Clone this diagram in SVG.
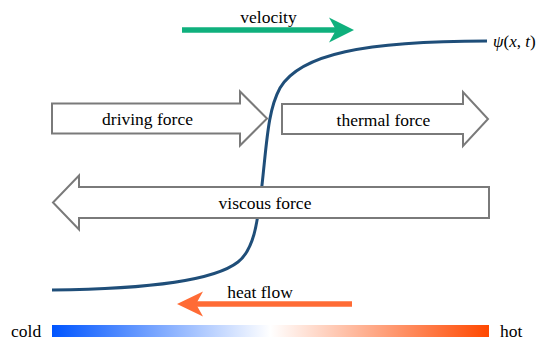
<svg xmlns="http://www.w3.org/2000/svg" width="545" height="353" viewBox="0 0 545 353">
  <style>
    text { font-family: 'Liberation Serif', serif; font-size: 17.5px; fill: #000; }
    .block { fill: #ffffff; stroke: #7a7a7a; stroke-width: 2; stroke-linejoin: miter; }
    .curve { fill: none; stroke: #1f4e79; stroke-width: 3; stroke-linecap: butt; }
  </style>
  <defs>
    <linearGradient id="temp" x1="52" y1="0" x2="489" y2="0" gradientUnits="userSpaceOnUse">
      <stop offset="0" stop-color="#0055ff"/>
      <stop offset="0.5" stop-color="#ffffff"/>
      <stop offset="1" stop-color="#ff4800"/>
    </linearGradient>
  </defs>

  <g id="connectors">
    <path id="psi-curve" class="curve" d="M52,290 C150,289 215,280 238,262 C256,248 258,215 262,185 C267,140 268,110 280,88 C300,54 365,41 487,41"/>
    <g id="velocity-arrow">
      <line x1="182" y1="30" x2="336" y2="30" stroke="#0fb07d" stroke-width="5.5"/>
      <path d="M354,30 L329,17.5 L336,30 L329,42.5 Z" fill="#0fb07d"/>
    </g>
    <g id="heatflow-arrow">
      <line x1="352" y1="304" x2="196" y2="304" stroke="#ff6b35" stroke-width="5.5"/>
      <path d="M177,304 L203,291.5 L196,304 L203,316.5 Z" fill="#ff6b35"/>
    </g>
  </g>

  <g id="velocity-label">
    <text x="268.5" y="22.5" text-anchor="middle">velocity</text>
  </g>

  <g id="psi-label">
    <text x="493" y="46.5" style="font-size:17px"><tspan font-style="italic">ψ</tspan>(<tspan font-style="italic">x</tspan>, <tspan font-style="italic">t</tspan>)</text>
  </g>

  <g id="driving-force">
    <path class="block" d="M52,103.5 L240,103.5 L240,91.5 L267,118.5 L240,145.5 L240,133.5 L52,133.5 Z"/>
    <text x="147.5" y="124.5" text-anchor="middle">driving force</text>
  </g>

  <g id="thermal-force">
    <path class="block" d="M282,104 L463,104 L463,92 L488,119 L463,146 L463,134 L282,134 Z"/>
    <text x="383.5" y="126" text-anchor="middle">thermal force</text>
  </g>

  <g id="viscous-force">
    <path class="block" d="M489,187 L79,187 L79,175.5 L53,202.5 L79,229.5 L79,218 L489,218 Z"/>
    <text x="265" y="208.5" text-anchor="middle">viscous force</text>
  </g>

  <g id="heatflow-label">
    <text x="260" y="297.5" text-anchor="middle">heat flow</text>
  </g>

  <g id="temperature-bar">
    <rect x="52" y="325" width="437" height="12" fill="url(#temp)"/>
    <text x="11" y="337">cold</text>
    <text x="500" y="337">hot</text>
  </g>
</svg>
